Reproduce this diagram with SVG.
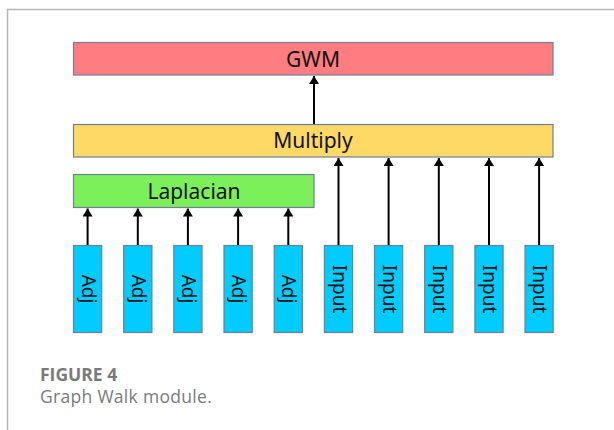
<svg xmlns="http://www.w3.org/2000/svg" width="614" height="430" viewBox="0 0 614 430">
<style>
.box{stroke:#6f7f94;stroke-width:1.2}
.lbl{font-family:"Noto Sans","DejaVu Sans",sans-serif;font-size:21px;fill:#111;text-anchor:middle}
.vl{font-family:"Noto Sans","DejaVu Sans",sans-serif;font-size:19px;fill:#111;text-anchor:middle}
.in{fill:#00CCFF}
.conn{stroke:#000;stroke-width:2;fill:none;marker-end:url(#ah)}
.cap{font-family:"Open Sans","Noto Sans",sans-serif;font-size:17.5px;fill:#7a7a7a}
</style>
<defs>
<marker id="ah" viewBox="0 0 8 10" refX="8" refY="5" markerWidth="4" markerHeight="5" orient="auto" markerUnits="strokeWidth">
<path d="M0,0 L8,5 L0,10 Z" fill="#000"/>
</marker>
</defs>
<rect width="614" height="430" fill="#fff"/>
<path d="M7.5,430 V9.5 H614" fill="none" stroke="#b5b5b5" stroke-width="1.5"/>

<g id="gwm"><rect class="box" x="73.5" y="42.5" width="479.5" height="32.5" fill="#FF7C80"/><text class="lbl" x="313" y="66.5">GWM</text></g>
<g id="multiply"><rect class="box" x="73.5" y="124.5" width="479.5" height="32.5" fill="#FFD966"/><text class="lbl" x="313" y="148.3">Multiply</text></g>
<g id="laplacian"><rect class="box" x="73.5" y="174.5" width="240.5" height="33" fill="#7CF05A"/><text class="lbl" x="194" y="199.3">Laplacian</text></g>

<g id="adj1"><rect class="box in" x="73.5" y="245.5" width="28.2" height="87"/><text class="vl" transform="translate(87.6,289) rotate(90)" x="0" y="6">Adj</text></g>
<g id="adj2"><rect class="box in" x="123.7" y="245.5" width="28.2" height="87"/><text class="vl" transform="translate(137.8,289) rotate(90)" x="0" y="6">Adj</text></g>
<g id="adj3"><rect class="box in" x="173.8" y="245.5" width="28.2" height="87"/><text class="vl" transform="translate(187.9,289) rotate(90)" x="0" y="6">Adj</text></g>
<g id="adj4"><rect class="box in" x="224" y="245.5" width="28.2" height="87"/><text class="vl" transform="translate(238.1,289) rotate(90)" x="0" y="6">Adj</text></g>
<g id="adj5"><rect class="box in" x="274.2" y="245.5" width="28.2" height="87"/><text class="vl" transform="translate(288.3,289) rotate(90)" x="0" y="6">Adj</text></g>
<g id="input1"><rect class="box in" x="324.4" y="245.5" width="28.2" height="87"/><text class="vl" transform="translate(338.5,289) rotate(90)" x="0" y="6">Input</text></g>
<g id="input2"><rect class="box in" x="374.5" y="245.5" width="28.2" height="87"/><text class="vl" transform="translate(388.6,289) rotate(90)" x="0" y="6">Input</text></g>
<g id="input3"><rect class="box in" x="424.7" y="245.5" width="28.2" height="87"/><text class="vl" transform="translate(438.8,289) rotate(90)" x="0" y="6">Input</text></g>
<g id="input4"><rect class="box in" x="474.9" y="245.5" width="28.2" height="87"/><text class="vl" transform="translate(489,289) rotate(90)" x="0" y="6">Input</text></g>
<g id="input5"><rect class="box in" x="525" y="245.5" width="28.2" height="87"/><text class="vl" transform="translate(539.1,289) rotate(90)" x="0" y="6">Input</text></g>

<g id="connectors">
<path class="conn" d="M314,124 V76"/>
<path class="conn" d="M87.6,245 V208.5"/>
<path class="conn" d="M137.8,245 V208.5"/>
<path class="conn" d="M187.9,245 V208.5"/>
<path class="conn" d="M238.1,245 V208.5"/>
<path class="conn" d="M288.3,245 V208.5"/>
<path class="conn" d="M338.5,245 V158"/>
<path class="conn" d="M388.6,245 V158"/>
<path class="conn" d="M438.8,245 V158"/>
<path class="conn" d="M489,245 V158"/>
<path class="conn" d="M539.1,245 V158"/>
</g>

<text class="cap" x="40" y="381" font-weight="bold">FIGURE 4</text>
<text class="cap" x="40" y="403" letter-spacing="0.3">Graph Walk module.</text>
</svg>
